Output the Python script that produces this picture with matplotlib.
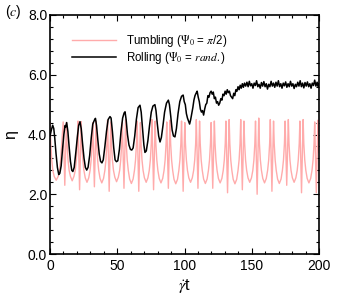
import matplotlib
matplotlib.use("Agg")
import matplotlib.pyplot as plt
from matplotlib.ticker import MultipleLocator

plt.rcParams['font.family'] = ['Liberation Sans', 'DejaVu Sans']
plt.rcParams['mathtext.fontset'] = 'stix'

# Tumbling (Psi0 = pi/2) series
t_tumble = [0, 0.6, 1.3, 2.1, 3.1, 4.6, 6.1, 7.1, 7.9, 8.7,
            9.8, 11, 12.2, 12.7, 13.4, 14.2, 15.2, 16.5, 17.8, 18.8, 19.6, 20.3,
            20.8, 22, 23.2, 23.7, 24.4, 25.2, 26.2, 27.5, 28.8, 29.8, 30.6, 31.3,
            31.8, 33, 34.2, 34.7, 35.4, 36.2, 37.2, 38.5, 39.8, 40.8, 41.6, 42.3,
            42.8, 44, 45.2, 45.7, 46.4, 47.2, 48.2, 49.5, 50.8, 51.8, 52.6, 53.3,
            53.8, 55, 56.2, 56.7, 57.4, 58.2, 59.2, 60.5, 61.8, 62.8, 63.6, 64.3,
            64.8, 66, 67.2, 67.7, 68.4, 69.2, 70.2, 71.5, 72.8, 73.8, 74.6, 75.3,
            75.8, 77, 78.2, 78.7, 79.4, 80.2, 81.2, 82.5, 83.8, 84.8, 85.6, 86.3,
            86.8, 88, 89.2, 89.7, 90.4, 91.2, 92.2, 93.5, 94.8, 95.8, 96.6, 97.3,
            97.8, 99, 100.2, 100.7, 101.4, 102.2, 103.2, 104.5, 105.8, 106.8, 107.6, 108.3,
            108.8, 110, 111.2, 111.7, 112.4, 113.2, 114.2, 115.5, 116.8, 117.8, 118.6, 119.3,
            119.8, 121, 122.2, 122.7, 123.4, 124.2, 125.2, 126.5, 127.8, 128.8, 129.6, 130.3,
            130.8, 132, 133.2, 133.7, 134.4, 135.2, 136.2, 137.5, 138.8, 139.8, 140.6, 141.3,
            141.8, 143, 144.2, 144.7, 145.4, 146.2, 147.2, 148.5, 149.8, 150.8, 151.6, 152.3,
            152.8, 154, 155.2, 155.7, 156.4, 157.2, 158.2, 159.5, 160.8, 161.8, 162.6, 163.3,
            163.8, 165, 166.2, 166.7, 167.4, 168.2, 169.2, 170.5, 171.8, 172.8, 173.6, 174.3,
            174.8, 176, 177.2, 177.7, 178.4, 179.2, 180.2, 181.5, 182.8, 183.8, 184.6, 185.3,
            185.8, 187, 188.2, 188.7, 189.4, 190.2, 191.2, 192.5, 193.8, 194.8, 195.6, 196.3,
            196.8, 198, 199.2, 199.7, 200]
eta_tumble = [4.42, 3.7, 3.15, 2.8, 2.6, 2.47, 2.6, 2.8, 3.15, 3.7,
              4.42, 2.3, 4.4, 3.7, 3.15, 2.8, 2.6, 2.45, 2.6, 2.8, 3.15, 3.7,
              4.45, 2.15, 4.43, 3.7, 3.15, 2.8, 2.55, 2.4, 2.55, 2.8, 3.15, 3.7,
              4.4, 2.25, 4.45, 3.7, 3.15, 2.8, 2.53, 2.38, 2.53, 2.8, 3.15, 3.7,
              4.48, 2.1, 4.42, 3.7, 3.15, 2.8, 2.57, 2.42, 2.57, 2.8, 3.15, 3.7,
              4.4, 2.2, 4.5, 3.7, 3.15, 2.8, 2.51, 2.36, 2.51, 2.8, 3.15, 3.7,
              4.45, 2.1, 4.4, 3.7, 3.15, 2.8, 2.55, 2.4, 2.55, 2.8, 3.15, 3.7,
              4.5, 2.15, 4.45, 3.7, 3.15, 2.8, 2.53, 2.38, 2.53, 2.8, 3.15, 3.7,
              4.42, 2.2, 4.48, 3.7, 3.15, 2.8, 2.5, 2.35, 2.5, 2.8, 3.15, 3.7,
              4.45, 2.1, 4.4, 3.7, 3.15, 2.8, 2.55, 2.4, 2.55, 2.8, 3.15, 3.7,
              4.5, 2.2, 4.45, 3.7, 3.15, 2.8, 2.51, 2.36, 2.51, 2.8, 3.15, 3.7,
              4.4, 2.2, 4.45, 3.7, 3.15, 2.8, 2.53, 2.38, 2.53, 2.8, 3.15, 3.7,
              4.45, 2.05, 4.5, 3.7, 3.15, 2.8, 2.5, 2.35, 2.5, 2.8, 3.15, 3.7,
              4.5, 2.15, 4.45, 3.7, 3.15, 2.8, 2.55, 2.4, 2.55, 2.8, 3.15, 3.7,
              4.45, 2.0, 4.55, 3.7, 3.15, 2.8, 2.53, 2.38, 2.53, 2.8, 3.15, 3.7,
              4.5, 2.1, 4.45, 3.7, 3.15, 2.8, 2.51, 2.36, 2.51, 2.8, 3.15, 3.7,
              4.45, 2.3, 4.5, 3.7, 3.15, 2.8, 2.55, 2.4, 2.55, 2.8, 3.15, 3.7,
              4.45, 2.05, 4.5, 3.7, 3.15, 2.8, 2.53, 2.38, 2.53, 2.8, 3.15, 3.7,
              4.42, 2.05, 4.48, 3.7, 3.4]

# Rolling (Psi0 = rand.) series
t_roll = [0, 1, 2, 2.8, 3.5, 4.5, 5.5, 6.5, 7.3, 8.3, 9.3, 10.3, 11.2, 11.7, 12.4,
          13.3, 14.2, 15.2, 16.2, 17, 18, 19.2, 20.3, 21.3, 22.3,
          23.2, 24.2, 25.3, 26.3, 27.3, 28.3, 29.5, 30.7, 31.8, 33.2, 33.8,
          34.6, 35.6, 36.6, 37.6, 38.6, 39.6, 40.8, 42, 43.2, 44.6,
          45.4, 46.4, 47.4, 48.4, 49.4, 50.4, 51.6, 52.8, 54, 55.1, 55.8,
          56.6, 57.6, 58.7, 59.8, 60.8, 61.8, 63, 64.2, 65.5, 66.9,
          67.8, 68.8, 69.8, 70.6, 71.6, 72.8, 74, 75.3, 76.5, 78,
          78.8, 79.8, 80.8, 81.8, 82.8, 84, 85.2, 86.6, 88,
          88.8, 89.8, 90.8, 91.8, 92.9, 94, 95.2, 96.5, 97.8, 99,
          99.8, 100.6, 101.4, 102.2, 103, 103.8, 104.6, 105.4, 106.2, 107, 107.8, 108.6, 109.4,
          110.2, 111, 111.8, 112.6, 113.4, 114.2, 115, 115.8, 116.6, 117.4, 118.2, 119, 119.8,
          120.6, 121.4, 122.2, 123, 123.8, 124.6, 125.4, 126.2, 127, 127.8, 128.6, 129.4, 130.2,
          131, 131.8, 132.6, 133.4, 134.2, 135, 135.8, 136.6, 137.4, 138.2, 139, 139.8,
          140.6, 141.4, 142.2, 143, 143.8, 144.6,
          145.5, 146.4, 147.3, 148.2, 149.1, 150, 150.9, 151.8, 152.7, 153.6,
          154.5, 155.4, 156.3, 157.2, 158.1, 159, 159.9, 160.8, 161.7, 162.6,
          163.5, 164.4, 165.3, 166.2, 167.1, 168, 168.9, 169.8, 170.7, 171.6,
          172.5, 173.4, 174.3, 175.2, 176.1, 177, 177.9, 178.8, 179.7, 180.6,
          181.5, 182.4, 183.3, 184.2, 185.1, 186, 186.9, 187.8, 188.7, 189.6,
          190.5, 191.4, 192.3, 193.2, 194.1, 195, 195.9, 196.8, 197.7, 198.6,
          199.5, 200]
eta_roll = [3.95, 4.15, 4.31, 4.2, 3.9, 3.35, 2.9, 2.66, 2.7, 2.95, 3.5, 4.0, 4.3, 4.25, 4.4,
            4.1, 3.6, 3.1, 2.8, 2.76, 2.9, 3.4, 3.9, 4.3, 4.43,
            4.2, 3.7, 3.2, 2.9, 2.81, 2.9, 3.3, 3.9, 4.35, 4.5, 4.54,
            4.3, 3.8, 3.35, 3.1, 3.05, 3.15, 3.6, 4.1, 4.5, 4.6,
            4.55, 4.1, 3.55, 3.15, 3.09, 3.12, 3.5, 4.1, 4.55, 4.72, 4.76,
            4.5, 4.0, 3.65, 3.5, 3.48, 3.55, 3.95, 4.5, 4.9, 4.98,
            4.75, 4.2, 3.65, 3.4, 3.45, 3.8, 4.3, 4.75, 4.95, 5.0,
            4.8, 4.35, 3.95, 3.75, 3.9, 4.3, 4.75, 5.05, 5.15,
            5.0, 4.6, 4.15, 3.95, 3.92, 4.2, 4.7, 5.1, 5.28, 5.32,
            5.1, 5.0, 4.7, 4.55, 4.45, 4.35, 4.5, 4.7, 4.9, 5.15, 5.3, 5.38, 5.45,
            5.25, 5.1, 4.85, 4.75, 4.8, 4.65, 4.85, 5.0, 5.05, 5.3, 5.25, 5.4, 5.45,
            5.35, 5.42, 5.2, 5.25, 5.05, 5.1, 4.98, 5.05, 5.2, 5.15, 5.35, 5.3, 5.45,
            5.35, 5.5, 5.4, 5.45, 5.3, 5.25, 5.2, 5.38, 5.3, 5.5, 5.45, 5.6,
            5.5, 5.65, 5.55, 5.7, 5.58, 5.72,
            5.62, 5.75, 5.6, 5.78, 5.63, 5.7, 5.55, 5.72, 5.64, 5.8,
            5.6, 5.68, 5.55, 5.74, 5.62, 5.77, 5.6, 5.7, 5.52, 5.68,
            5.6, 5.78, 5.62, 5.72, 5.58, 5.75, 5.62, 5.8, 5.6, 5.7,
            5.55, 5.72, 5.63, 5.76, 5.58, 5.7, 5.6, 5.78, 5.62, 5.7,
            5.54, 5.68, 5.6, 5.75, 5.62, 5.8, 5.6, 5.72, 5.56, 5.74,
            5.62, 5.76, 5.6, 5.7, 5.55, 5.72, 5.64, 5.82, 5.62, 5.75,
            5.6, 5.7]

x_ticks = [0, 50, 100, 150, 200]
y_ticks = [0.0, 2.0, 4.0, 6.0, 8.0]

fig = plt.figure(figsize=(3.37, 3.00), dpi=100)
ax = fig.add_axes([50/337, 46/300, 269/337, 239/300])

ax.plot(t_tumble, eta_tumble, color='#ffabab', lw=1.0,
        label=r'Tumbling ($\Psi_0$ = $\pi$/2)')
ax.plot(t_roll, eta_roll, color='black', lw=1.1,
        label=r'Rolling ($\Psi_0$ = $rand.$)')

ax.set_xlim(0, 200)
ax.set_ylim(0, 8)
ax.set_xticks(x_ticks)
ax.set_yticks(y_ticks)
ax.set_yticklabels([f'{v:.1f}' for v in y_ticks])
ax.xaxis.set_minor_locator(MultipleLocator(10))
ax.yaxis.set_minor_locator(MultipleLocator(0.4))
ax.tick_params(which='both', direction='in', top=True, right=True, labelsize=10, width=0.8)
ax.tick_params(which='major', length=4.5)
ax.tick_params(axis='x', which='major', pad=3.5)
ax.tick_params(axis='y', which='major', pad=2)
ax.tick_params(which='minor', length=2.5)
for s in ax.spines.values():
    s.set_linewidth(1.2)

ax.set_xlabel(r'$\dot{\gamma}$t', fontsize=11.5, labelpad=3)
ax.set_ylabel('η', fontsize=11.5, labelpad=7)

ax.legend(loc='upper left', bbox_to_anchor=(0.08, 0.925), frameon=False,
          fontsize=8.3, handlelength=3.9, handletextpad=0.8, labelspacing=0.1,
          borderpad=0, borderaxespad=0)

fig.text(5/337, 1 - 12/300, r'($c$)', fontsize=10, va='center', ha='left')

fig.savefig('out.png', dpi=100)
